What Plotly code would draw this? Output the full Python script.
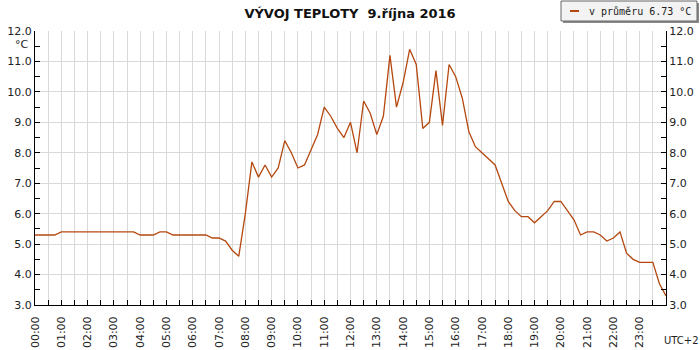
import plotly.graph_objects as go

# 15-minute readings 00:00 .. 24:00
temps = [
    5.3, 5.3, 5.3, 5.3,   # 00
    5.4, 5.4, 5.4, 5.4,   # 01
    5.4, 5.4, 5.4, 5.4,   # 02
    5.4, 5.4, 5.4, 5.4,   # 03
    5.3, 5.3, 5.3, 5.4,   # 04
    5.4, 5.3, 5.3, 5.3,   # 05
    5.3, 5.3, 5.3, 5.2,   # 06
    5.2, 5.1, 4.8, 4.6,   # 07
    6.0, 7.7, 7.2, 7.6,   # 08
    7.2, 7.5, 8.4, 8.0,   # 09
    7.5, 7.6, 8.1, 8.6,   # 10
    9.5, 9.2, 8.8, 8.5,   # 11
    9.0, 8.0, 9.7, 9.3,   # 12
    8.6, 9.2, 11.2, 9.5,  # 13
    10.3, 11.4, 10.9, 8.8,  # 14
    9.0, 10.7, 8.9, 10.9,   # 15
    10.5, 9.8, 8.7, 8.2,    # 16
    8.0, 7.8, 7.6, 7.0,     # 17
    6.4, 6.1, 5.9, 5.9,     # 18
    5.7, 5.9, 6.1, 6.4,     # 19
    6.4, 6.1, 5.8, 5.3,     # 20
    5.4, 5.4, 5.3, 5.1,     # 21
    5.2, 5.4, 4.7, 4.5,     # 22
    4.4, 4.4, 4.4, 3.7,     # 23
    3.3,                    # 24
]
hours = [i * 0.25 for i in range(len(temps))]
hour_ticks = list(range(24))
hour_labels = [f"{h:02d}:00" for h in hour_ticks]
y_ticks = [3, 4, 5, 6, 7, 8, 9, 10, 11, 12]

title_text = "VÝVOJ TEPLOTY  9.října 2016"
legend_text = "v průměru 6.73 °C"
line_color = "#b5480f"
grid_color = "#d9d9d9"
font_family = "DejaVu Sans"

W, H = 700, 350
ML, MR, MT, MB = 35, 34, 31, 45
PW, PH = W - ML - MR, H - MT - MB


def px(x):
    return (x - ML) / PW


def py(y):
    return (H - MB - y) / PH


fig = go.Figure()
fig.add_trace(go.Scatter(
    x=hours, y=temps, mode="lines", name=legend_text, showlegend=False,
    line=dict(color=line_color, width=1.3),
))
fig.add_trace(go.Scatter(
    x=hours, y=temps, mode="lines", yaxis="y2", showlegend=False,
    line=dict(color="rgba(0,0,0,0)", width=0), hoverinfo="skip",
))

fig.update_layout(
    width=W, height=H,
    margin=dict(l=ML, r=MR, t=MT, b=MB, autoexpand=False),
    paper_bgcolor="white", plot_bgcolor="white",
    font=dict(family=font_family, size=11, color="#222"),
    title=dict(text=f"<b>{title_text}</b>", x=0.5, xanchor="center",
               y=0.962, yanchor="middle", xref="container", yref="container",
               font=dict(size=13, color="#111", family=font_family)),
    showlegend=False,
    xaxis=dict(
        range=[0, 24], tickmode="array", tickvals=hour_ticks, ticktext=hour_labels,
        tickangle=-90, showgrid=True, gridcolor=grid_color, gridwidth=1,
        showline=True, linecolor="black", linewidth=1, mirror=False,
        ticks="inside", ticklen=5, tickcolor="black",
        minor=dict(dtick=0.5, tick0=0, showgrid=True, gridcolor=grid_color,
                   ticks="inside", ticklen=5, tickcolor="black"),
        zeroline=False, fixedrange=True,
        tickfont=dict(size=11, color="#222"), ticklabelstandoff=6,
    ),
    yaxis=dict(
        range=[3, 12], tickmode="array", tickvals=y_ticks, tickformat=".1f",
        showgrid=True, gridcolor=grid_color, gridwidth=1,
        showline=True, linecolor="black", linewidth=1,
        ticks="inside", ticklen=5, tickcolor="black",
        minor=dict(dtick=0.5, tick0=0, showgrid=False, ticks="inside",
                   ticklen=5, tickcolor="black"),
        zeroline=False, fixedrange=True,
        tickfont=dict(size=11, color="#222"),
    ),
    yaxis2=dict(
        range=[3, 12], overlaying="y", side="right", tickmode="array",
        tickvals=y_ticks, tickformat=".1f", showgrid=False,
        showline=True, linecolor="black", linewidth=1,
        ticks="inside", ticklen=5, tickcolor="black",
        minor=dict(dtick=0.5, tick0=0, ticks="inside", ticklen=5, tickcolor="black"),
        zeroline=False, fixedrange=True,
        tickfont=dict(size=11, color="#222"),
    ),
)

# legend box (drawn by hand to match the small boxed legend)
fig.add_shape(type="rect", xref="paper", yref="paper",
              x0=px(563), x1=px(699), y0=py(3), y1=py(23),
              line=dict(width=0), fillcolor="#8a8a8a", layer="above")
fig.add_shape(type="rect", xref="paper", yref="paper",
              x0=px(561), x1=px(697), y0=py(1), y1=py(21),
              line=dict(width=1, color="#666"), fillcolor="#f3f3f3", layer="above")
fig.add_shape(type="line", xref="paper", yref="paper",
              x0=px(570), x1=px(579), y0=py(11), y1=py(11),
              line=dict(width=2, color=line_color), layer="above")
fig.add_annotation(text=legend_text, xref="paper", yref="paper",
                   x=px(587), y=py(11), xanchor="left", yanchor="middle",
                   showarrow=False,
                   font=dict(size=10, family="DejaVu Sans Mono", color="#222"))

fig.add_annotation(text="°C", xref="paper", yref="paper", x=-0.021, y=0.949,
                   showarrow=False, xanchor="center", yanchor="middle",
                   font=dict(size=11, color="#222"))
fig.add_annotation(text="UTC+2", xref="paper", yref="paper", x=1.025, y=-0.13,
                   showarrow=False, xanchor="center", yanchor="middle",
                   font=dict(size=10, color="#222"))

fig.write_html("out.html", config={"displayModeBar": False},
               post_script="document.body.style.margin='0';")
